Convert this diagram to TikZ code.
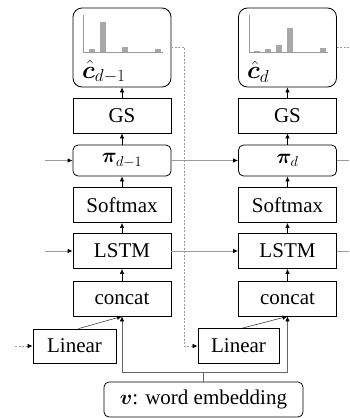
\documentclass[tikz,border=0pt]{standalone}
\usepackage{amsmath,bm}
\usepackage{fontspec}
\setmainfont{Liberation Serif}
\usetikzlibrary{arrows.meta}
\definecolor{lgray}{HTML}{9A9A9A}
\definecolor{bargray}{HTML}{A8A8A8}
\begin{document}
\begin{tikzpicture}[x=1pt,y=-1pt,
  font=\fontsize{21}{24}\selectfont,
  box/.style={draw=black,line width=0.8pt,inner sep=0pt,minimum width=98pt,minimum height=35pt},
  rbox/.style={box,rounded corners=5pt},
  tip/.style={-{Latex[length=5pt,width=4.5pt,color=black]}},
  up/.style={draw=black,line width=0.6pt,tip},
  gline/.style={draw=lgray,line width=0.8pt},
  dline/.style={draw=lgray,line width=0.7pt,dash pattern=on 2pt off 1.5pt},
  lbl/.style={anchor=west,inner sep=0pt,font=\fontsize{23}{26}\selectfont},
]
\useasboundingbox (0,0) rectangle (349,418);
% left column
\node[box,rounded corners=9pt,minimum height=79pt] (cL) at (122,47.5) {};
\node[box] (gsL) at (122,115.5) {GS};
\node[rbox,minimum height=31pt] (piL) at (122,160.5) {$\bm{\pi}_{d-1}$};
\node[box] (smL) at (122,205) {Softmax};
\node[box] (lsL) at (122,251) {LSTM};
\node[box] (ccL) at (122,298.5) {concat};
\node[box,minimum width=83pt,minimum height=34pt] (lnL) at (74.5,346) {Linear};
% right column
\node[box,rounded corners=9pt,minimum height=79pt] (cR) at (287.5,47.5) {};
\node[box] (gsR) at (287.5,115.5) {GS};
\node[rbox,minimum height=31pt] (piR) at (287.5,160.5) {$\bm{\pi}_{d}$};
\node[box] (smR) at (287.5,205) {Softmax};
\node[box] (lsR) at (287.5,251) {LSTM};
\node[box] (ccR) at (287.5,298.5) {concat};
\node[box,minimum width=81pt,minimum height=35pt] (lnR) at (238.5,346) {Linear};
% embedding
\node[rbox,minimum width=199pt,minimum height=35pt] (emb) at (203.5,399.5) {$\bm{v}$: word embedding};
% histogram labels
\node[lbl] (lblL) at (82,72) {$\hat{\bm{c}}_{d-1}$};
\node[lbl] (lblR) at (247,72) {$\hat{\bm{c}}_{d}$};
% histograms
\foreach \c/\hs in {cL/{3.5,31,1,6,1,0.7,3.5},cR/{2,3.5,8,25,0.7,0.7,4.5}}{
  \begin{scope}[shift={(\c.north west)}]
    \foreach \h [count=\i from 0] in \hs {
      \fill[bargray] ({16+11*\i},45) rectangle ++(6,-\h);
    }
    \draw[lgray,line width=0.8pt] (11,7) -- (11,45) -- (90,45);
  \end{scope}
}
% column arrows
\foreach \s in {L,R}{
  \draw[up] (gs\s) -- (c\s);
  \draw[up] (pi\s) -- (gs\s);
  \draw[up] (sm\s) -- (pi\s);
  \draw[up] (ls\s) -- (sm\s);
  \draw[up] (cc\s) -- (ls\s);
}
% horizontal recurrences
\coordinate (inPi) at (45,160.5);
\coordinate (inLs) at (45,251);
\coordinate (outPi) at (349,160.5);
\coordinate (outLs) at (349,251);
\draw[gline,tip] (inPi) -- (piL);
\draw[gline,tip] (inLs) -- (lsL);
\draw[gline,tip] (piL) -- (piR);
\draw[gline,tip] (lsL) -- (lsR);
\draw[gline] (piR) -- (outPi);
\draw[gline] (lsR) -- (outLs);
% dashed feedback
\coordinate (inLn) at (15,346);
\coordinate (outC) at (349,47);
\draw[dline,tip] (cL.east |- 0,47) -| (184,346) -- (lnR.west);
\draw[dline] (cR.east |- 0,47) -- (outC);
\draw[dline,tip] (inLn) -- (lnL.west);
% linear to concat
\draw[draw=black!75,line width=0.6pt,tip] ([xshift=4pt]lnL.north) -- (ccL.south);
\draw[draw=black!75,line width=0.6pt,tip] ([xshift=4pt]lnR.north) -- (ccR.south);
% embedding to concat
\coordinate (ej) at (203.5,372);
\draw[draw=black!60,line width=0.6pt] (emb.north) -- (ej);
\draw[draw=black!60,line width=0.6pt,tip] (ej) -| (ccL.south);
\draw[draw=black!60,line width=0.6pt,tip] (ej) -| (ccR.south);
\end{tikzpicture}
\end{document}
